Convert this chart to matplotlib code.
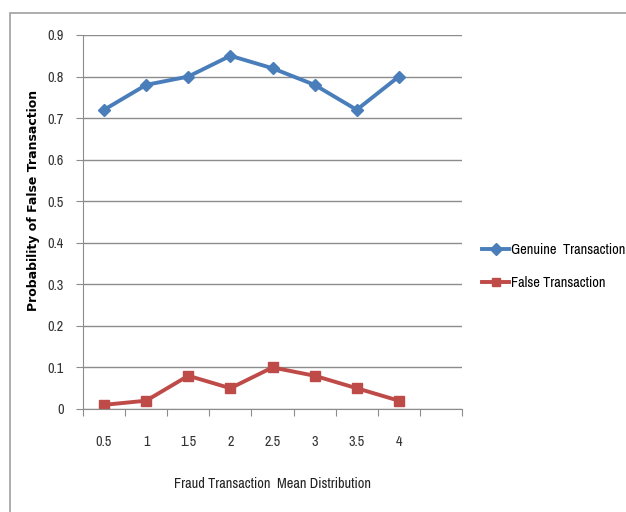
import numpy as np
import matplotlib
matplotlib.use('Agg')
import matplotlib.pyplot as plt
from matplotlib import font_manager
from matplotlib.patches import Rectangle

# pick a narrow face for the labels if one is installed
names = sorted({f.name for f in font_manager.fontManager.ttflist})
narrow = [n for n in names if 'Narrow' in n or 'Condensed' in n]
label_font = [narrow[0], 'Liberation Sans', 'DejaVu Sans'] if narrow else ['Liberation Sans', 'DejaVu Sans']
plt.rcParams['font.family'] = label_font
fs = 10.3 if narrow else 8.5

# data
categories = ['0.5', '1', '1.5', '2', '2.5', '3', '3.5', '4']
genuine = [0.72, 0.78, 0.80, 0.85, 0.82, 0.78, 0.72, 0.80]
false_tr = [0.01, 0.02, 0.08, 0.05, 0.10, 0.08, 0.05, 0.02]
n_slots = 9  # one empty category slot at the right end

blue = '#4A7EBB'
red = '#BE4B48'
grid_col = '#8C8C8C'
text_col = '#333333'

fig = plt.figure(figsize=(6.26, 5.12), dpi=100)
W, H = 626, 512

# chart area frame
fig.patches.append(Rectangle((10 / W, -0.1), 1.0, 1 - 13 / H + 0.1,
                             transform=fig.transFigure, fill=False,
                             edgecolor='#A0A0A0', linewidth=1.2))

ax = fig.add_axes([83 / W, (H - 409) / H, (462 - 83) / W, (409 - 35) / H])

x = np.arange(len(categories)) + 0.5
ax.plot(x, genuine, color=blue, lw=2.8, marker='D', ms=6.5, mec=blue,
        label='Genuine  Transaction')
ax.plot(x, false_tr, color=red, lw=2.8, marker='s', ms=7, mec=red,
        label='False Transaction')

ax.set_xlim(0, n_slots)
ax.set_ylim(0, 0.9)
ax.set_yticks(np.arange(0, 0.91, 0.1))
ax.set_yticklabels(['0'] + ['%.1f' % v for v in np.arange(0.1, 0.91, 0.1)],
                   fontsize=fs, color=text_col)
ax.yaxis.grid(True, color=grid_col, lw=1.0)
ax.set_axisbelow(True)

ax.set_xticks(np.arange(0, n_slots + 1))
ax.set_xticklabels([])
ax.set_xticks(x, minor=True)
ax.set_xticklabels(categories, minor=True, fontsize=fs, color=text_col)
ax.tick_params(axis='x', which='major', length=5, color=grid_col, direction='out')
ax.tick_params(axis='x', which='minor', length=0, pad=19)
ax.tick_params(axis='y', length=5, color=grid_col, pad=9)

for s in ['top', 'right']:
    ax.spines[s].set_visible(False)
for s in ['left', 'bottom']:
    ax.spines[s].set_color(grid_col)

ax.set_xlabel('Fraud Transaction  Mean Distribution', fontsize=fs,
              color='#222222', labelpad=20)
ax.set_ylabel('Probability of False Transaction', fontsize=9,
              fontweight='bold', family='DejaVu Sans')
ax.yaxis.set_label_coords((40 - 83) / (462 - 83), (409 - 200) / (409 - 35))

fig.legend(loc='upper left', bbox_to_anchor=(472 / W, 1 - 233 / H),
           frameon=False, fontsize=fs, handlelength=1.9, handletextpad=0.1,
           labelspacing=1.3, markerscale=0.9, borderpad=0.2)

fig.savefig('out.png', dpi=100)
